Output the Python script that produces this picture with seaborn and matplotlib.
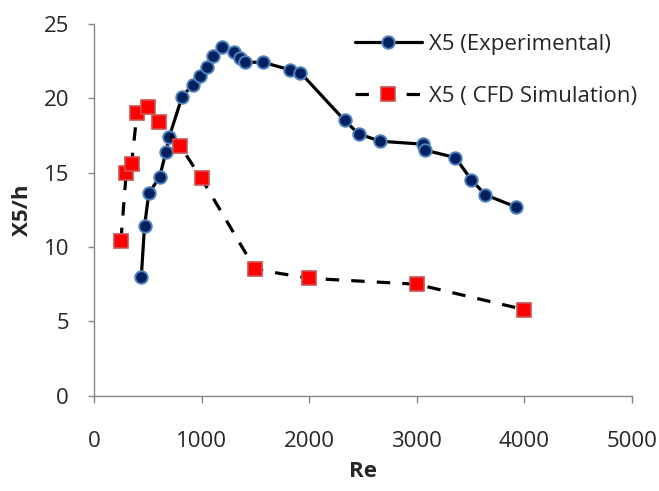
import matplotlib
matplotlib.use("Agg")
import matplotlib.pyplot as plt
import seaborn as sns
import pandas as pd

# Experimental measurements of X5/h versus Reynolds number
re_exp = [440, 470, 510, 610, 670, 700, 820, 920, 990, 1050, 1110, 1190,
          1300, 1360, 1400, 1570, 1820, 1920, 2330, 2460, 2660, 3060,
          3080, 3360, 3510, 3640, 3920]
x5_exp = [8.0, 11.4, 13.6, 14.7, 16.4, 17.4, 20.1, 20.9, 21.5, 22.1, 22.8,
          23.4, 23.1, 22.7, 22.4, 22.4, 21.9, 21.7, 18.5, 17.6, 17.1, 16.9,
          16.5, 16.0, 14.5, 13.5, 12.7]

# CFD simulation results
re_cfd = [250, 300, 350, 400, 500, 600, 800, 1000, 1500, 2000, 3000, 4000]
x5_cfd = [10.4, 15.0, 15.6, 19.0, 19.4, 18.4, 16.8, 14.6, 8.5, 7.9, 7.5, 5.8]

label_exp = "X5 (Experimental)"
label_cfd = "X5 ( CFD Simulation)"
x_ticks = [0, 1000, 2000, 3000, 4000, 5000]
y_ticks = [0, 5, 10, 15, 20, 25]

sns.set_style("white")
plt.rcParams["font.family"] = ["Open Sans", "DejaVu Sans"]

df_exp = pd.DataFrame({"Re": re_exp, "X5/h": x5_exp})
df_cfd = pd.DataFrame({"Re": re_cfd, "X5/h": x5_cfd})

fig = plt.figure(figsize=(6.59, 4.91), dpi=100)
ax = fig.add_axes([0.1426, 0.1935, 0.816, 0.7586])

axis_grey = "#868686"

sns.lineplot(data=df_exp, x="Re", y="X5/h", ax=ax, sort=False, estimator=None,
             color="black", linewidth=2.3, marker="o", markersize=9.0,
             markerfacecolor="#002060", markeredgecolor="#4F81BD",
             markeredgewidth=1.4, label=label_exp)
sns.lineplot(data=df_cfd, x="Re", y="X5/h", ax=ax, sort=False, estimator=None,
             color="black", linewidth=2.3, marker="s", markersize=10.0,
             markerfacecolor="#FF0000", markeredgecolor="#D0504D",
             markeredgewidth=1.2, label=label_cfd, dashes=False)
ax.lines[-1].set_dashes((4.2, 3.8))

ax.set_xlim(0, 5000)
ax.set_ylim(0, 25)
ax.set_xticks(x_ticks)
ax.set_yticks(y_ticks)

for side in ("top", "right"):
    ax.spines[side].set_visible(False)
for side in ("left", "bottom"):
    ax.spines[side].set_color(axis_grey)
    ax.spines[side].set_linewidth(1.0)

ax.tick_params(axis="y", direction="out", length=4.5, width=1.0,
               color=axis_grey, labelsize=16, pad=13.5, left=True)
ax.tick_params(axis="x", direction="out", length=5, width=1.0,
               color=axis_grey, labelsize=16, pad=20, bottom=True)

ax.set_xlabel("Re", fontsize=16, fontweight="bold")
ax.set_ylabel("X5/h", fontsize=16, fontweight="bold")
ax.xaxis.set_label_coords(0.5, -0.175)
ax.yaxis.set_label_coords(-0.113, 0.5)

leg = ax.legend(loc="upper left", bbox_to_anchor=(355 / 659, 1 - 34 / 491),
                bbox_transform=fig.transFigure, frameon=False, fontsize=16,
                handlelength=3.0, handletextpad=0.35, labelspacing=1.4,
                borderpad=0, borderaxespad=0)

fig.savefig("out.png", dpi=100)
